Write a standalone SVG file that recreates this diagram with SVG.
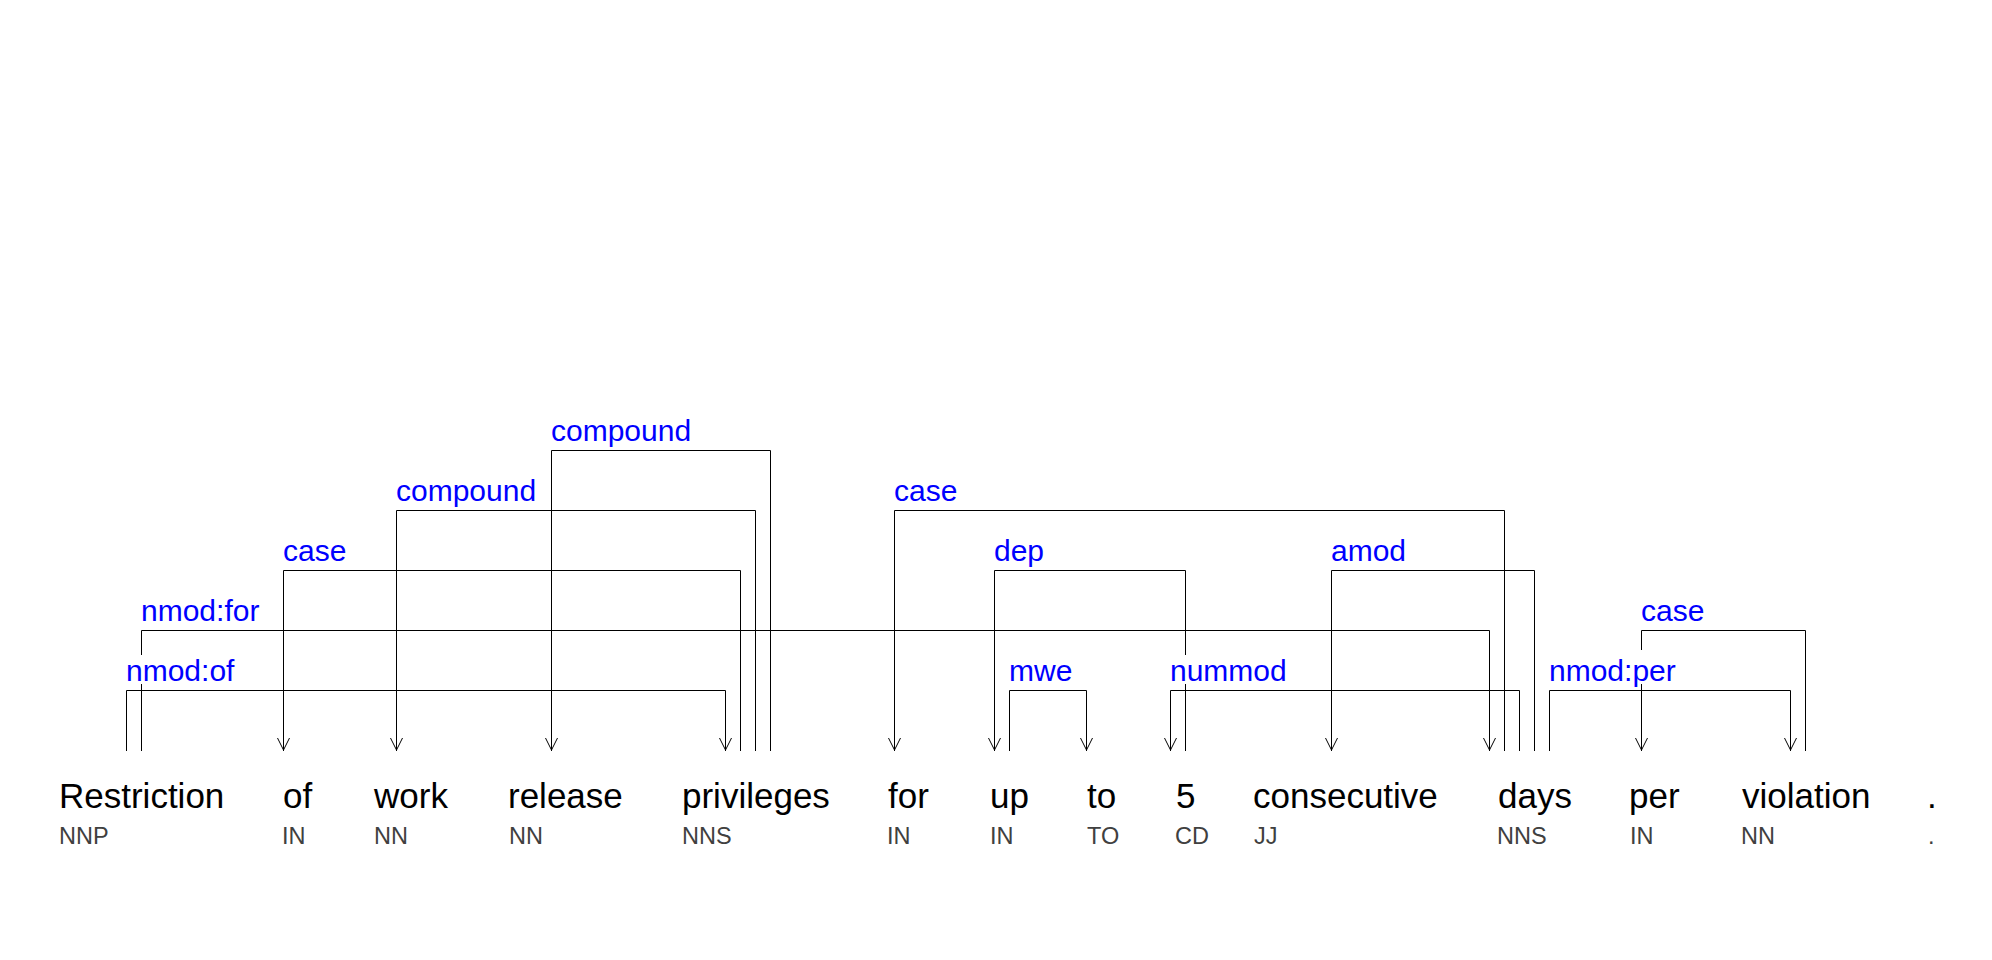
<svg xmlns="http://www.w3.org/2000/svg" width="1992" height="960" viewBox="0 0 1992 960">
<style>
.w{font-family:"Liberation Sans",Arial,sans-serif;font-size:35px;fill:#000}
.p{font-family:"Liberation Sans",Arial,sans-serif;font-size:23.5px;fill:#404040}
.l{font-family:"Liberation Sans",Arial,sans-serif;font-size:30px;fill:#0000ff}
.e{fill:none;stroke:#000;stroke-width:1}
</style>
<rect width="1992" height="960" fill="#fff"/>
<g id="connectors">
<g id="e-nmod-of"><path class="e" d="M126.5,751V690.5H725.5V751M719.5,738L725.5,750L731.5,738"/><text class="l" x="126" y="681">nmod:of</text></g>
<g id="e-nmod-for"><path class="e" d="M141.5,655V630.5H1489.5V751M141.5,684V751M1483.5,738L1489.5,750L1495.5,738"/><text class="l" x="141" y="621">nmod:for</text></g>
<g id="e-case-of"><path class="e" d="M740.5,751V570.5H283.5V751M277.5,738L283.5,750L289.5,738"/><text class="l" x="283" y="561">case</text></g>
<g id="e-compound-work"><path class="e" d="M755.5,751V510.5H396.5V751M390.5,738L396.5,750L402.5,738"/><text class="l" x="396" y="501">compound</text></g>
<g id="e-compound-release"><path class="e" d="M770.5,751V450.5H551.5V751M545.5,738L551.5,750L557.5,738"/><text class="l" x="551" y="441">compound</text></g>
<g id="e-case-for"><path class="e" d="M1504.5,751V510.5H894.5V751M888.5,738L894.5,750L900.5,738"/><text class="l" x="894" y="501">case</text></g>
<g id="e-dep"><path class="e" d="M1185.5,684V751M1185.5,655V570.5H994.5V751M988.5,738L994.5,750L1000.5,738"/><text class="l" x="994" y="561">dep</text></g>
<g id="e-mwe"><path class="e" d="M1009.5,751V690.5H1086.5V751M1080.5,738L1086.5,750L1092.5,738"/><text class="l" x="1009" y="681">mwe</text></g>
<g id="e-nummod"><path class="e" d="M1519.5,751V690.5H1170.5V751M1164.5,738L1170.5,750L1176.5,738"/><text class="l" x="1170" y="681">nummod</text></g>
<g id="e-amod"><path class="e" d="M1534.5,751V570.5H1331.5V751M1325.5,738L1331.5,750L1337.5,738"/><text class="l" x="1331" y="561">amod</text></g>
<g id="e-nmod-per"><path class="e" d="M1549.5,751V690.5H1790.5V751M1784.5,738L1790.5,750L1796.5,738"/><text class="l" x="1549" y="681">nmod:per</text></g>
<g id="e-case-per"><path class="e" d="M1805.5,751V630.5H1641.5V650M1641.5,684V751M1635.5,738L1641.5,750L1647.5,738"/><text class="l" x="1641" y="621">case</text></g>
</g>
<g id="n1"><text class="w" x="59" y="808">Restriction</text><text class="p" x="59" y="844">NNP</text></g>
<g id="n2"><text class="w" x="283" y="808">of</text><text class="p" x="282" y="844">IN</text></g>
<g id="n3"><text class="w" x="374" y="808">work</text><text class="p" x="374" y="844">NN</text></g>
<g id="n4"><text class="w" x="508" y="808">release</text><text class="p" x="509" y="844">NN</text></g>
<g id="n5"><text class="w" x="682" y="808">privileges</text><text class="p" x="682" y="844">NNS</text></g>
<g id="n6"><text class="w" x="888" y="808">for</text><text class="p" x="887" y="844">IN</text></g>
<g id="n7"><text class="w" x="990" y="808">up</text><text class="p" x="990" y="844">IN</text></g>
<g id="n8"><text class="w" x="1087" y="808">to</text><text class="p" x="1087" y="844">TO</text></g>
<g id="n9"><text class="w" x="1176" y="808">5</text><text class="p" x="1175" y="844">CD</text></g>
<g id="n10"><text class="w" x="1253" y="808">consecutive</text><text class="p" x="1254" y="844">JJ</text></g>
<g id="n11"><text class="w" x="1498" y="808">days</text><text class="p" x="1497" y="844">NNS</text></g>
<g id="n12"><text class="w" x="1629" y="808">per</text><text class="p" x="1630" y="844">IN</text></g>
<g id="n13"><text class="w" x="1742" y="808">violation</text><text class="p" x="1741" y="844">NN</text></g>
<g id="n14"><text class="w" x="1927" y="808">.</text><text class="p" x="1928" y="844">.</text></g>
</svg>
